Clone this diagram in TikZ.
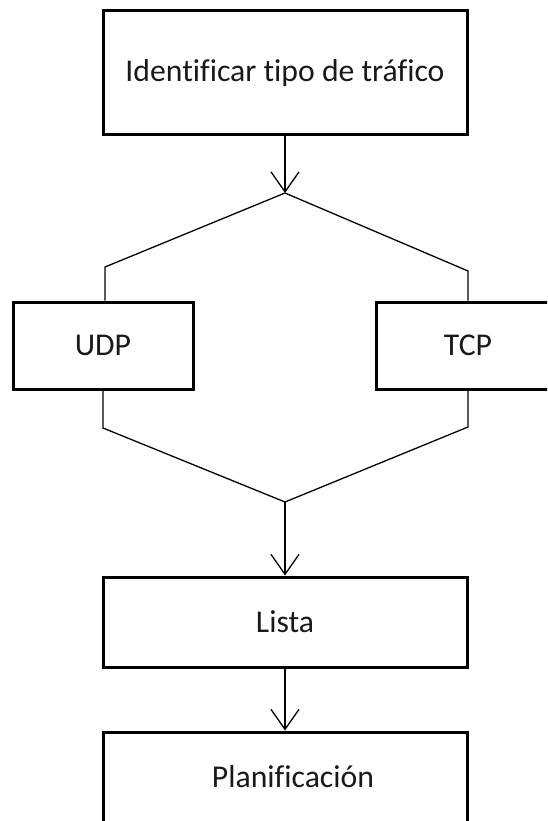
\documentclass[tikz,border=0pt]{standalone}
\usepackage{fontspec}
\setmainfont{Carlito}[Ligatures=NoCommon]
\usetikzlibrary{arrows.meta}
\begin{document}
\begin{tikzpicture}[x=1pt,y=-1pt,
  box/.style={draw=black, line width=3pt, fill=white, inner sep=0pt,
    font=\fontsize{31.7}{38}\selectfont, text=black!90},
  link/.style={draw=black, line width=1.3pt},
  flow/.style={link, -{Straight Barb[length=20pt,width=28pt,line width=1.3pt]}}]
  \clip (0,0) rectangle (547,821);
  \fill[white] (0,0) rectangle (547,821);

  % process boxes
  \node[box, minimum width=364pt, minimum height=124pt] (ident) at (285,73) {Identificar tipo de tráfico};
  \node[box, minimum width=180pt, minimum height=87pt] (udp) at (103,345.5) {UDP};
  \node[box, minimum width=184pt, minimum height=87pt] (tcp) at (468,345.5) {TCP};
  \node[box, minimum width=364pt, minimum height=90pt] (lista) at (285,622) {Lista};
  \node[box, minimum width=364pt, minimum height=90pt] (plan) at (285,777) {\hspace{16pt}Planificación};

  % branching points
  \coordinate (split) at (285,193);
  \coordinate (merge) at (285,502);

  \draw[flow] (ident.south) -- (split);
  \draw[link] (split) -- (105,267) -- (udp.north -| 105,0);
  \draw[link] (split) -- (468,271) -- (tcp.north);
  \draw[link] (udp.south) -- (103,428) -- (merge) -- (468,427) -- (tcp.south);
  \draw[flow] (merge) -- (lista.north);
  \draw[flow] (lista.south) -- (plan.north);
\end{tikzpicture}
\end{document}
